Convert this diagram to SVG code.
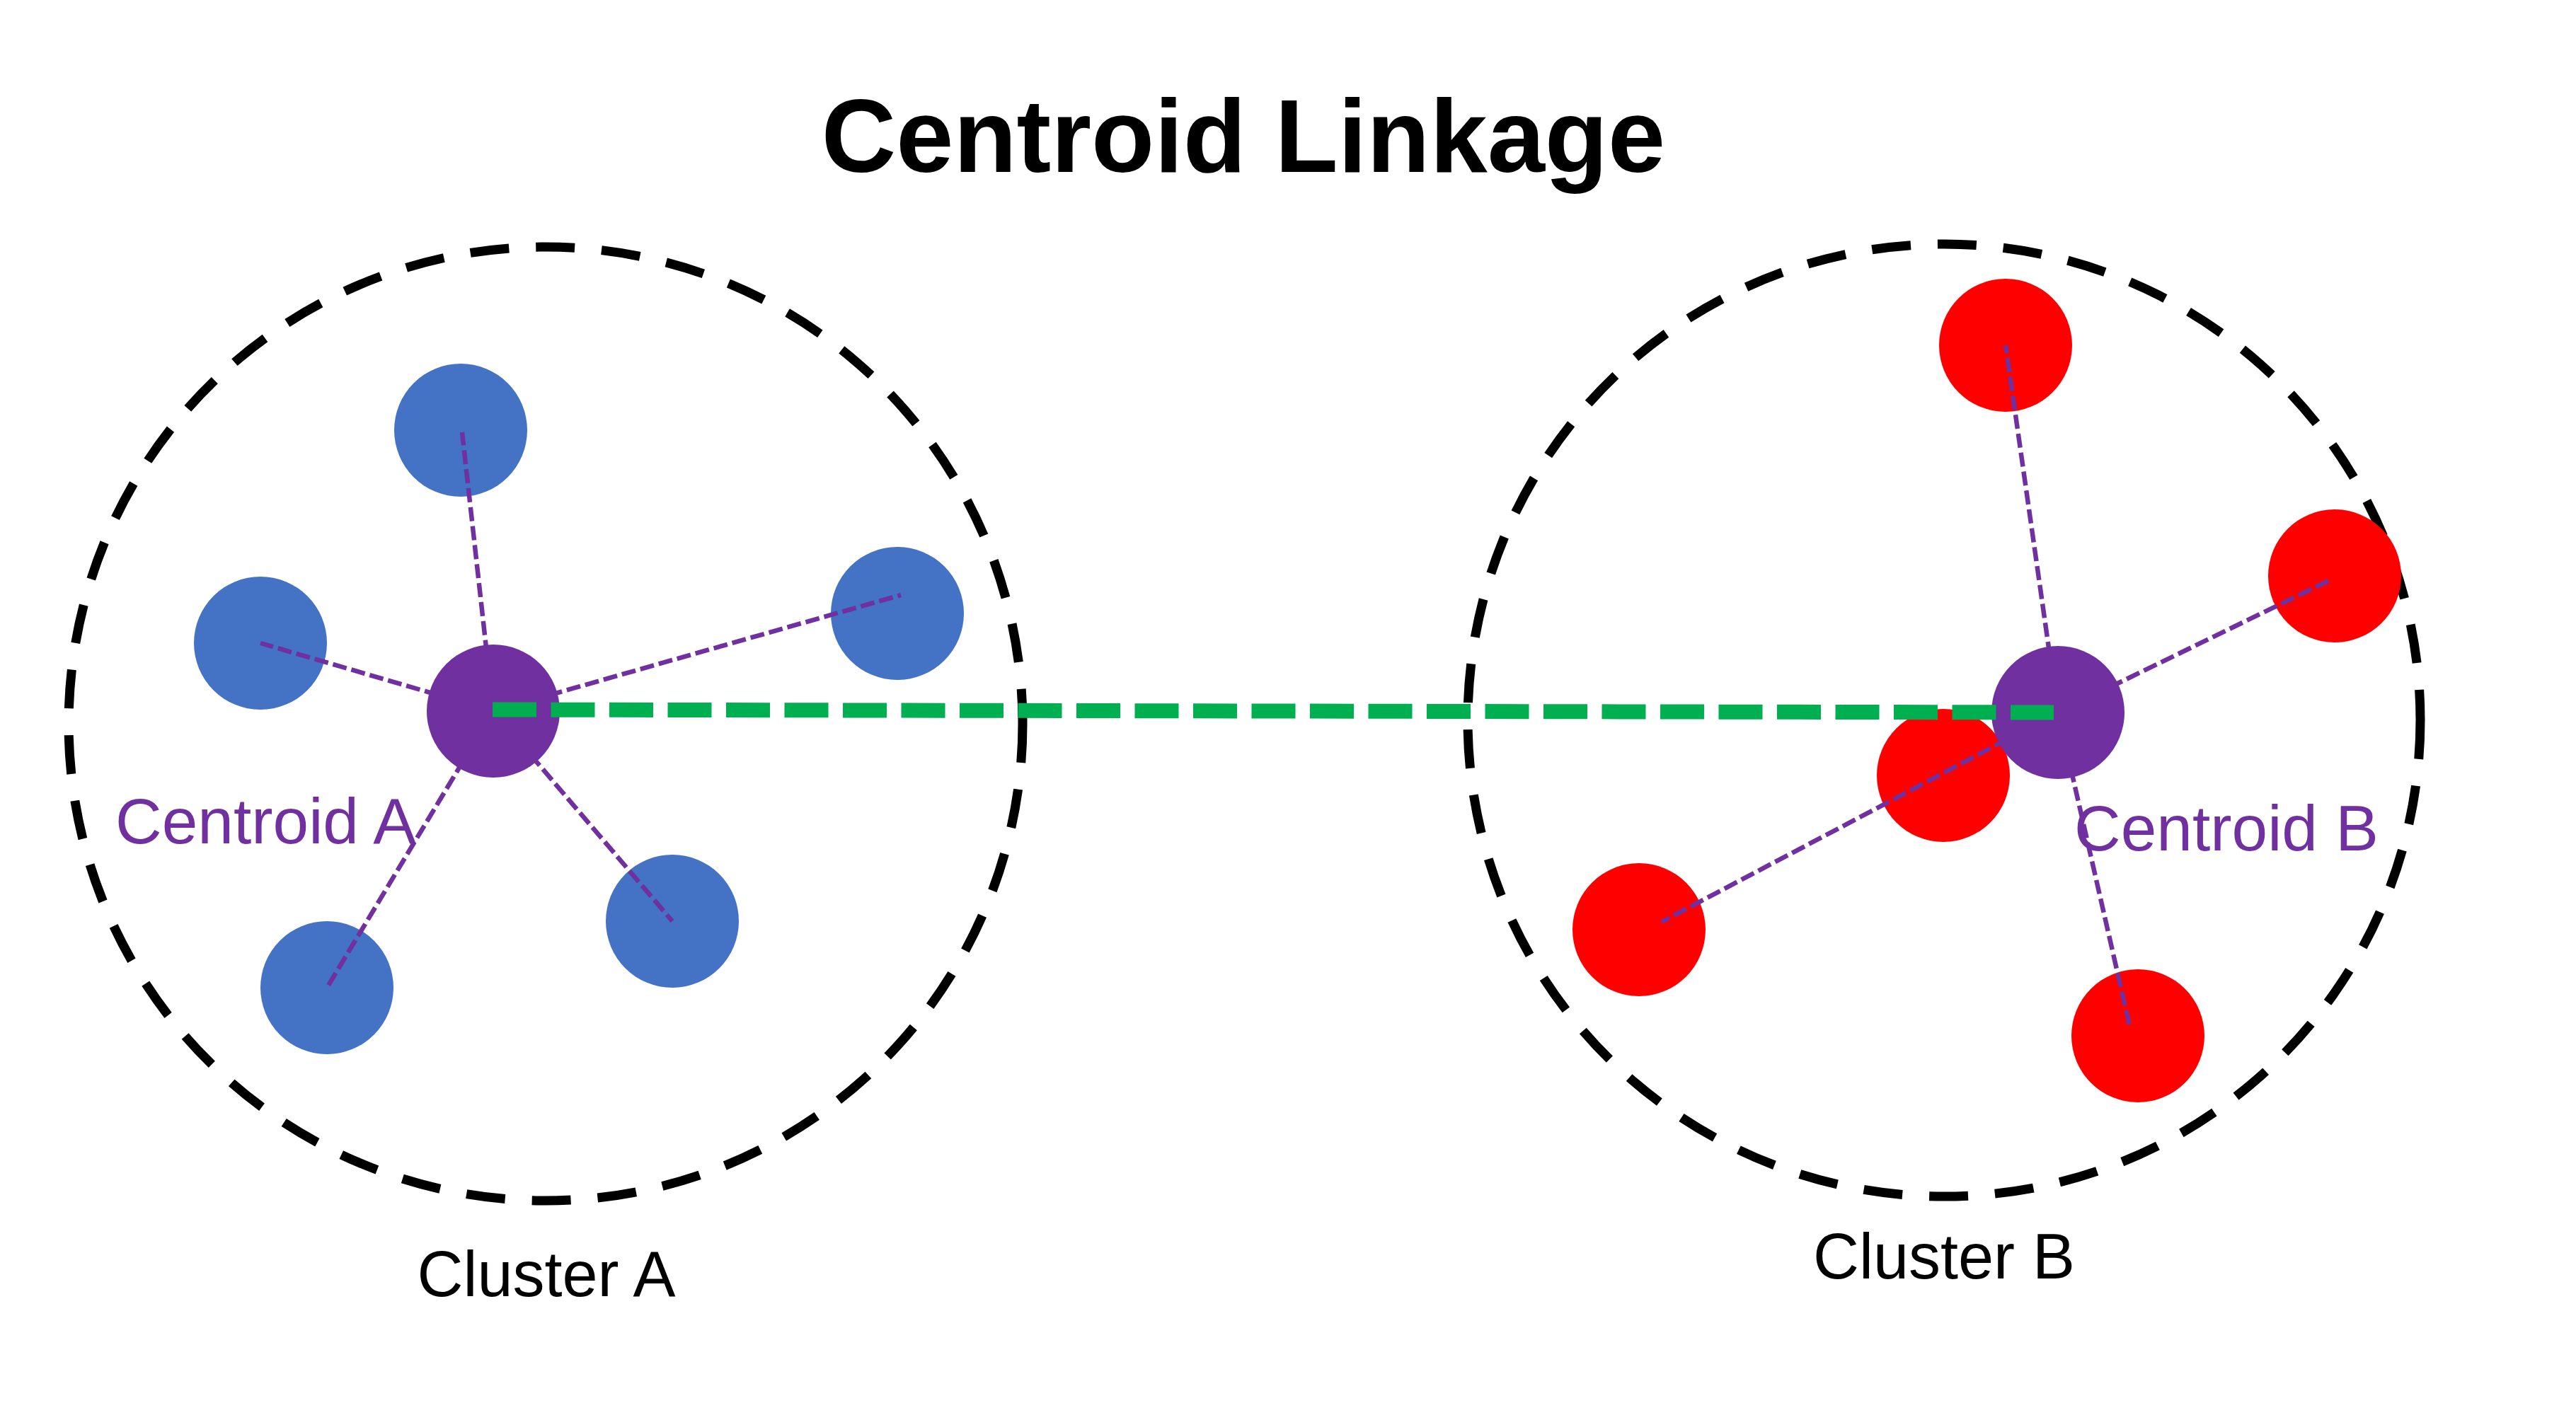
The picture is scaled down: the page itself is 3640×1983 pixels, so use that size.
<svg xmlns="http://www.w3.org/2000/svg" width="3640" height="1983" viewBox="0 0 3640 1983">
  <style>
    .cluster { fill: none; stroke: #000000; stroke-width: 13; stroke-dasharray: 55 38; }
    .ptA { fill: #4472C4; }
    .ptB { fill: #FF0000; }
    .centroid { fill: #7030A0; }
    .spoke { stroke: #7030A0; stroke-width: 6.5; stroke-dasharray: 20 7; fill: none; }
    .link { stroke: #00B050; stroke-width: 21; stroke-dasharray: 62 20.5; fill: none; }
    .title { font-family: "Liberation Sans", Arial, sans-serif; font-weight: bold; font-size: 146px; fill: #000000; }
    .clabel { font-family: "Liberation Sans", Arial, sans-serif; font-size: 90px; fill: #000000; }
    .centlabel { font-family: "Liberation Sans", Arial, sans-serif; font-size: 91px; fill: #7030A0; }
  </style>
  <rect width="3640" height="1983" fill="#FFFFFF"/>
  <text class="title" x="1757" y="243" text-anchor="middle">Centroid Linkage</text>

  <g id="clusterA">
    <circle class="cluster" cx="771" cy="1023" r="674"/>
    <text class="clabel" x="772" y="1832" text-anchor="middle">Cluster A</text>
  </g>
  <g id="clusterB">
    <circle class="cluster" cx="2747" cy="1018" r="673"/>
    <text class="clabel" x="2747" y="1807" text-anchor="middle">Cluster B</text>
  </g>

  <g id="pointsA">
    <circle id="a1" class="ptA" cx="651" cy="608" r="94"/>
    <circle id="a2" class="ptA" cx="368" cy="909" r="94"/>
    <circle id="a3" class="ptA" cx="1268" cy="867" r="94"/>
    <circle id="a4" class="ptA" cx="462" cy="1396" r="94"/>
    <circle id="a5" class="ptA" cx="950" cy="1302" r="94"/>
  </g>
  <g id="pointsB">
    <circle id="b1" class="ptB" cx="2834" cy="488" r="94"/>
    <circle id="b2" class="ptB" cx="3299" cy="814" r="94"/>
    <circle id="b3" class="ptB" cx="2746" cy="1096" r="94"/>
    <circle id="b4" class="ptB" cx="2316" cy="1314" r="94"/>
    <circle id="b5" class="ptB" cx="3021" cy="1464" r="94"/>
  </g>

  <g id="connectors">
    <g id="spokesA">
      <line class="spoke" x1="697" y1="1005" x2="653" y2="611"/>
      <line class="spoke" x1="697" y1="1005" x2="368" y2="909"/>
      <line class="spoke" x1="697" y1="1005" x2="1273" y2="841"/>
      <line class="spoke" x1="697" y1="1005" x2="462" y2="1396"/>
      <line class="spoke" x1="697" y1="1005" x2="950" y2="1302"/>
    </g>
    <g id="spokesB">
      <line class="spoke" x1="2908" y1="1007" x2="2834" y2="488"/>
      <line class="spoke" x1="2908" y1="1007" x2="3294" y2="819"/>
      <line class="spoke" x1="2908" y1="1007" x2="2348" y2="1303"/>
      <line class="spoke" x1="2908" y1="1007" x2="3010" y2="1453"/>
    </g>
  </g>

  <g id="centroidA">
    <circle class="centroid" cx="697" cy="1005" r="94"/>
  </g>
  <g id="centroidB">
    <circle class="centroid" cx="2908" cy="1007" r="94"/>
  </g>

  <g id="linkage">
    <line class="link" x1="696" y1="1003" x2="2902" y2="1007"/>
  </g>

  <g id="labels">
    <text class="centlabel" x="163" y="1192">Centroid A</text>
    <text class="centlabel" x="2931" y="1202">Centroid B</text>
  </g>
</svg>
